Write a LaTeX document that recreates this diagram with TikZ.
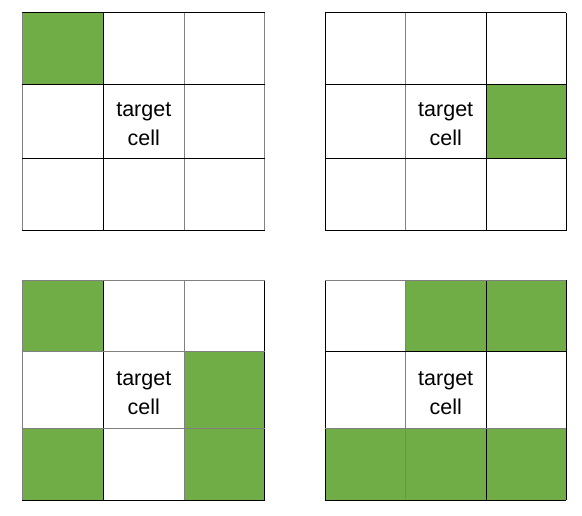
\documentclass[tikz,border=0pt]{standalone}
\usepackage{fontspec}
\setmainfont{Liberation Sans}
\definecolor{leaf}{HTML}{70AD47}
\definecolor{edgegrey}{HTML}{808080}
\tikzset{
  greencell/.style={fill=leaf},
  bl/.style={draw=black,line width=1pt},
  gl/.style={draw=edgegrey,line width=1pt},
  lbl/.style={align=center,inner sep=0pt,font=\fontsize{21.5}{29}\selectfont}
}
\begin{document}
\begin{tikzpicture}[x=1pt,y=-1pt]
\useasboundingbox[fill=white] (0,0) rectangle (582,516);
% ---------- green cells ----------
% top-left grid
\fill[greencell] (22,13) rectangle (103.3,84.5);
% top-right grid
\fill[greencell] (486,84.5) rectangle (566,159);
% bottom-left grid
\fill[greencell] (22,280.5) rectangle (103.3,352);
\fill[greencell] (184.3,352) rectangle (264.5,428.5);
\fill[greencell] (22,428.5) rectangle (103.3,500);
\fill[greencell] (184.3,428.5) rectangle (264.5,500);
% bottom-right grid
\fill[greencell] (405.5,280.5) rectangle (566,352);
\fill[greencell] (325.3,428.5) rectangle (566,500);
% ---------- grid lines ----------
% top-left
\foreach \x/\c in {22/gl,103.3/bl,184.3/gl,264.5/gl}
  \draw[\c] (\x,13) -- (\x,231);
\foreach \y in {13,84.5,159,231}
  \draw[bl] (22,\y) -- (264.5,\y);
% top-right
\foreach \x/\c in {325.3/bl,405.5/gl,486/bl,566/bl}
  \draw[\c] (\x,13) -- (\x,231);
\foreach \y in {13,84.5,159,231}
  \draw[bl] (325.3,\y) -- (566,\y);
% bottom-left
\foreach \x/\c in {22/gl,103.3/bl,184.3/gl,264.5/bl}
  \draw[\c] (\x,280.5) -- (\x,500);
\foreach \y/\c in {280.5/gl,352/gl,428.5/gl,500/bl}
  \draw[\c] (22,\y) -- (264.5,\y);
% bottom-right
\foreach \x/\c in {325.3/bl,405.5/gl,486/bl,566/bl}
  \draw[\c] (\x,280.5) -- (\x,500);
\foreach \y/\c in {280.5/gl,352/bl,428.5/gl,500/bl}
  \draw[\c] (325.3,\y) -- (566,\y);
% ---------- labels ----------
\node[lbl] (tTL) at (143.8,124) {target\\cell};
\node[lbl] (tTR) at (445.7,124) {target\\cell};
\node[lbl] (tBL) at (143.8,393) {target\\cell};
\node[lbl] (tBR) at (445.7,393) {target\\cell};
\end{tikzpicture}
\end{document}
